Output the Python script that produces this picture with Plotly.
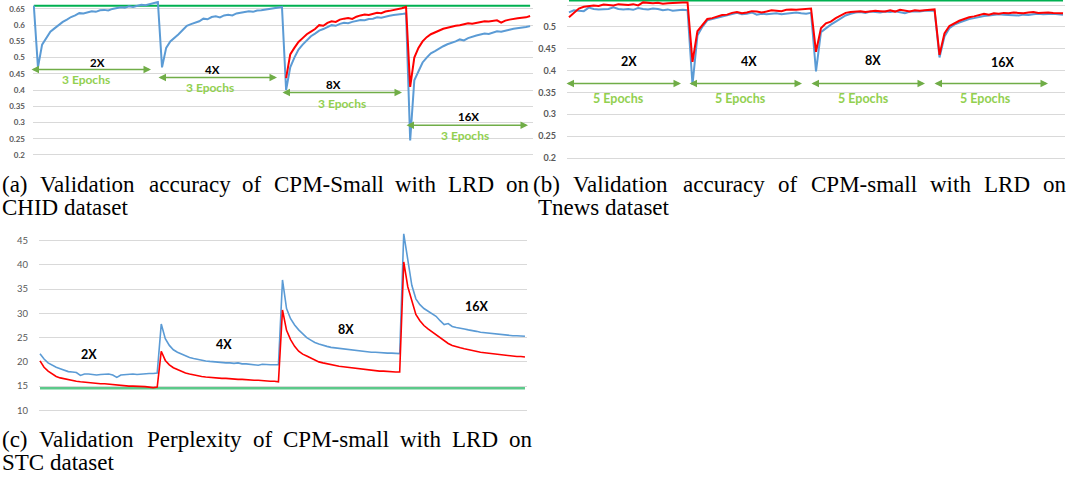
import plotly.graph_objects as go

W, H = 1066, 482

BLUE = "#5B9BD5"
RED = "#FF0000"
GREEN = "#00B050"
GREEN_C = "#5CC98A"
ARROW_GREEN = "#70AD47"
TEXT_GREEN = "#92D050"
GRID = "#D9D9D9"
TICK = "#595959"

# ---------------- (a) CHID validation accuracy ----------------
a_ticks = [0.2, 0.25, 0.3, 0.35, 0.4, 0.45, 0.5, 0.55, 0.6, 0.65]
a_tick_text = ["0.2", "0.25", "0.3", "0.35", "0.4", "0.45", "0.5", "0.55", "0.6", "0.65"]
a_target = 0.66
a_blue = [0.66,
          0.47, 0.54, 0.562, 0.58, 0.59, 0.60, 0.61, 0.617, 0.625, 0.63, 0.637, 0.636, 0.64, 0.643, 0.641,
          0.646, 0.647, 0.645, 0.65, 0.652, 0.655, 0.654, 0.658, 0.656, 0.66, 0.663, 0.661, 0.665, 0.667, 0.671,
          0.47, 0.53, 0.55, 0.56, 0.572, 0.585, 0.598, 0.603, 0.608, 0.612, 0.62, 0.618, 0.625, 0.627, 0.624,
          0.63, 0.632, 0.63, 0.636, 0.638, 0.64, 0.643, 0.641, 0.645, 0.646, 0.648, 0.65, 0.651, 0.653, 0.656,
          0.40, 0.47, 0.50, 0.525, 0.54, 0.553, 0.566, 0.574, 0.583, 0.588, 0.595, 0.60, 0.598, 0.604, 0.607,
          0.606, 0.61, 0.613, 0.616, 0.615, 0.619, 0.62, 0.624, 0.623, 0.627, 0.629, 0.631, 0.632, 0.634, 0.637,
          0.245, 0.43, 0.46, 0.485, 0.50, 0.513, 0.52, 0.528, 0.535, 0.541, 0.545, 0.55, 0.556, 0.553, 0.56,
          0.565, 0.568, 0.571, 0.574, 0.573, 0.578, 0.581, 0.58, 0.584, 0.586, 0.589, 0.59, 0.592, 0.594, 0.597]
a_red_start = 61
a_red = [0.437, 0.51, 0.53, 0.548, 0.56, 0.572, 0.58, 0.588, 0.60, 0.598, 0.607, 0.612, 0.61, 0.617, 0.62,
         0.622, 0.619, 0.626, 0.63, 0.633, 0.631, 0.635, 0.638, 0.637, 0.642, 0.644, 0.646, 0.649, 0.652, 0.656,
         0.41, 0.50, 0.53, 0.55, 0.563, 0.572, 0.578, 0.584, 0.589, 0.592, 0.596, 0.598, 0.60, 0.603, 0.606,
         0.604, 0.607, 0.609, 0.612, 0.611, 0.614, 0.615, 0.608, 0.614, 0.617, 0.618, 0.621, 0.623, 0.624, 0.628]

# ---------------- (b) Tnews validation accuracy ----------------
b_ticks = [0.2, 0.25, 0.3, 0.35, 0.4, 0.45, 0.5, 0.55]
b_tick_text = ["0.2", "0.25", "0.3", "0.35", "0.4", "0.45", "0.5", "0.55"]
b_target = 0.561
b_red = [0.522, 0.532, 0.542, 0.546, 0.548, 0.549, 0.548, 0.551, 0.55, 0.549, 0.552, 0.551, 0.55, 0.552, 0.549,
         0.556, 0.555, 0.554, 0.555, 0.553, 0.554, 0.555, 0.556, 0.556, 0.556,
         0.42, 0.49, 0.505, 0.518, 0.52, 0.524, 0.527, 0.528, 0.532, 0.534, 0.531, 0.533, 0.536, 0.535, 0.533,
         0.535, 0.538, 0.537, 0.536, 0.539, 0.54, 0.539, 0.54, 0.541, 0.542,
         0.443, 0.497, 0.508, 0.512, 0.52, 0.527, 0.532, 0.534, 0.535, 0.536, 0.534, 0.535, 0.537, 0.536, 0.535,
         0.538, 0.535, 0.539, 0.537, 0.535, 0.538, 0.537, 0.538, 0.539, 0.54,
         0.436, 0.485, 0.502, 0.508, 0.514, 0.518, 0.522, 0.524, 0.527, 0.53, 0.528, 0.531, 0.53, 0.532, 0.531,
         0.533, 0.532, 0.531, 0.533, 0.534, 0.532, 0.533, 0.533, 0.532, 0.532, 0.531]
b_blue = [0.533, 0.538, 0.537, 0.536, 0.544, 0.541, 0.54, 0.54, 0.541, 0.545, 0.541, 0.54, 0.541, 0.539, 0.543,
          0.541, 0.54, 0.542, 0.541, 0.538, 0.54, 0.537, 0.538, 0.539, 0.538,
          0.368, 0.48, 0.50, 0.515, 0.518, 0.52, 0.524, 0.527, 0.53, 0.532, 0.529, 0.53, 0.533, 0.528, 0.53,
          0.529, 0.53, 0.531, 0.529, 0.53, 0.532, 0.533, 0.531, 0.53, 0.532,
          0.398, 0.488, 0.497, 0.505, 0.512, 0.52, 0.526, 0.53, 0.533, 0.534, 0.532, 0.535, 0.534, 0.533, 0.535,
          0.534, 0.536, 0.534, 0.531, 0.535, 0.536, 0.535, 0.537, 0.537, 0.537,
          0.43, 0.478, 0.497, 0.505, 0.51, 0.514, 0.518, 0.52, 0.523, 0.525, 0.526, 0.527, 0.529, 0.528, 0.527,
          0.526, 0.526, 0.528, 0.527, 0.529, 0.53, 0.529, 0.53, 0.53, 0.529, 0.528]

# ---------------- (c) STC validation perplexity ----------------
c_ticks = [10, 15, 20, 25, 30, 35, 40, 45]
c_tick_text = ["10", "15", "20", "25", "30", "35", "40", "45"]
c_target = 14.55
c_blue = [21.7, 20.6, 19.8, 19.3, 18.9, 18.6, 18.3, 18.0, 17.9, 17.8, 17.2, 17.5, 17.5, 17.4, 17.3,
          17.4, 17.4, 17.5, 17.3, 16.8, 17.3, 17.4, 17.4, 17.5, 17.4, 17.5, 17.6, 17.6, 17.6, 17.7,
          27.8, 24.8, 23.4, 22.5, 22.0, 21.6, 21.2, 20.9, 20.7, 20.5, 20.3, 20.2, 20.1, 20.0, 19.9,
          19.9, 19.8, 19.8, 19.7, 19.8, 19.6, 19.6, 19.5, 19.5, 19.3, 19.5, 19.4, 19.4, 19.4, 19.4,
          36.9, 31.0, 28.9, 27.6, 26.6, 25.8, 25.0, 24.5, 24.0, 23.7, 23.4, 23.2, 23.0, 22.9, 22.8,
          22.7, 22.6, 22.5, 22.4, 22.2, 22.2, 22.1, 22.0, 22.0, 21.9, 21.9, 21.8, 21.8, 21.7, 21.7,
          46.4, 41.0, 35.8, 33.0, 31.8, 31.0, 30.5, 30.0, 29.4, 28.5, 27.7, 27.9, 27.3, 27.1, 27.0,
          26.8, 26.6, 26.5, 26.3, 26.1, 26.0, 25.9, 25.8, 25.7, 25.6, 25.6, 25.5, 25.4, 25.4, 25.3, 25.3]
c_red = [20.2, 18.9, 18.1, 17.5, 17.0, 16.7, 16.5, 16.3, 16.1, 16.0, 15.9, 15.8, 15.7, 15.7, 15.6,
         15.5, 15.5, 15.4, 15.3, 15.2, 15.1, 15.1, 15.0, 15.0, 15.0, 14.9, 14.9, 14.8, 14.7, 14.8,
         22.2, 20.3, 19.4, 18.8, 18.4, 18.0, 17.7, 17.5, 17.3, 17.1, 17.0, 16.9, 16.8, 16.7, 16.7,
         16.6, 16.6, 16.5, 16.5, 16.4, 16.4, 16.3, 16.3, 16.2, 16.2, 16.1, 16.1, 16.0, 16.0, 15.9,
         30.7, 26.5, 24.6, 23.2, 22.2, 21.6, 21.2, 20.8, 20.4, 20.0, 19.8, 19.6, 19.4, 19.2, 19.1,
         19.0, 18.9, 18.8, 18.6, 18.5, 18.4, 18.4, 18.3, 18.2, 18.1, 18.1, 18.0, 18.0, 17.9, 17.9,
         40.6, 35.5, 32.4, 29.8, 28.5, 27.5, 26.8, 26.2, 25.7, 25.0, 24.4, 23.8, 23.4, 23.1, 22.9,
         22.7, 22.5, 22.4, 22.2, 22.0, 21.9, 21.8, 21.6, 21.5, 21.4, 21.3, 21.3, 21.2, 21.1, 21.1, 21.0]

# labels
a_labels = ["2X", "4X", "8X", "16X"]
b_labels = ["2X", "4X", "8X", "16X"]
c_labels = ["2X", "4X", "8X", "16X"]
a_span = "3 Epochs"
b_span = "5 Epochs"


def px(x):
    return x / W


def py(y):
    return 1 - y / H


fig = go.Figure()


def line(xs, ys, color, width, xa, ya):
    fig.add_trace(go.Scatter(x=xs, y=ys, mode="lines", line=dict(color=color, width=width),
                             xaxis=xa, yaxis=ya, showlegend=False, hoverinfo="skip"))


# (a)
ax_idx = list(range(len(a_blue)))
line([ax_idx[0], ax_idx[-1]], [a_target, a_target], GREEN, 2, "x", "y")
line(ax_idx, a_blue, BLUE, 2, "x", "y")
line(list(range(a_red_start, a_red_start + len(a_red))), a_red, RED, 2, "x", "y")
# (b)
bx_idx = list(range(len(b_blue)))
line([bx_idx[0], bx_idx[-1]], [b_target, b_target], GREEN, 2.5, "x2", "y2")
line(bx_idx, b_blue, BLUE, 2, "x2", "y2")
line(bx_idx, b_red, RED, 2, "x2", "y2")
# (c)
cx_idx = list(range(len(c_blue)))
line([cx_idx[0], cx_idx[-1]], [c_target, c_target], GREEN_C, 2.5, "x3", "y3")
line(cx_idx, c_blue, BLUE, 1.6, "x3", "y3")
line(cx_idx, c_red, RED, 1.6, "x3", "y3")


def yaxis(domain, rng, tv, tt, size, bold, standoff, anchor):
    return dict(domain=domain, range=rng, tickvals=tv, ticktext=tt, showgrid=True,
                gridcolor=GRID, gridwidth=1, zeroline=False, showline=False, ticks="",
                tickfont=dict(family="Lato", size=size, color=TICK, weight=700 if bold else 400),
                ticklabelstandoff=standoff, anchor=anchor, fixedrange=True)


def xaxis(domain, rng, anchor):
    return dict(domain=domain, range=rng, visible=False, anchor=anchor, fixedrange=True)


fig.update_layout(
    width=W, height=H, margin=dict(l=0, r=0, t=0, b=0),
    paper_bgcolor="white", plot_bgcolor="white", showlegend=False,
    xaxis=xaxis([px(33), px(533)], [-0.2, 120.7], "y"),
    yaxis=yaxis([py(157.6), py(0.8)], [0.195, 0.675], a_ticks, a_tick_text, 8, True, 7, "x"),
    xaxis2=xaxis([px(567), px(1065)], [-0.4, 100.4], "y2"),
    yaxis2=yaxis([py(161.2), 1.0], [0.195, 0.5615], b_ticks, b_tick_text, 9, True, 10, "x2"),
    xaxis3=xaxis([px(39), px(527)], [-0.25, 120.5], "y3"),
    yaxis3=yaxis([py(415.4), py(232.4)], [9.5, 47], c_ticks, c_tick_text, 9.5, False, 10, "x3"),
)


def label(text, x, y, size, color="black"):
    fig.add_annotation(xref="paper", yref="paper", x=px(x), y=py(y), text="<b>%s</b>" % text,
                       showarrow=False, xanchor="center", yanchor="middle",
                       font=dict(family="Lato", size=size, color=color))


def darrow(x0, x1, y):
    fig.add_annotation(xref="paper", yref="paper", x=px(x1), y=py(y), ax=-(x1 - x0), ay=0,
                       text="", showarrow=True, arrowside="end+start", arrowhead=2, startarrowhead=2,
                       arrowsize=1, startarrowsize=1, arrowwidth=1.5, arrowcolor=ARROW_GREEN,
                       standoff=0, startstandoff=0)


# (a) annotations
for t, (x, y) in zip(a_labels, [(97, 63), (212, 70), (333, 85), (468, 117)]):
    label(t, x, y, 11.5)
for (x0, x1, y) in [(30, 151, 70), (157, 277, 78), (281, 402, 93), (405, 528, 126)]:
    darrow(x0, x1, y)
for (x, y) in [(86, 80), (210, 88), (342, 104), (465, 136)]:
    label(a_span, x, y, 12, TEXT_GREEN)

# (b) annotations
for t, (x, y) in zip(b_labels, [(629, 62), (749, 62), (873, 61), (1003, 63)]):
    label(t, x, y, 12.5)
for (x0, x1) in [(565, 681), (688, 802), (810, 925), (933, 1048)]:
    darrow(x0, x1, 84)
for x in [618, 740, 863, 985]:
    label(b_span, x, 99, 12.5, TEXT_GREEN)

# (c) annotations
for t, (x, y) in zip(c_labels, [(89, 357), (224, 347), (346, 332), (477, 308)]):
    label(t, x, y, 12.5)


# captions (justified first lines placed word by word)
def words(ws, xs, y, size=23):
    for w, x in zip(ws, xs):
        fig.add_annotation(xref="paper", yref="paper", x=px(x), y=py(y), text=w, showarrow=False,
                           xanchor="left", yanchor="middle",
                           font=dict(family="Liberation Serif", size=size, color="black"))


words("(a) Validation accuracy of CPM-Small with LRD on".split(),
      [0, 37.5, 146.6, 240.3, 271.5, 393.4, 446.3, 504.3], 186)
words(["CHID dataset"], [0], 209)
words("(b) Validation accuracy of CPM-small with LRD on".split(),
      [531, 571, 681.3, 776.2, 808.6, 927.9, 982, 1041.2], 186)
words(["Tnews dataset"], [536], 209)
words("(c) Validation Perplexity of CPM-small with LRD on".split(),
      [0, 36.6, 144.8, 250.5, 280.8, 398, 450, 507.1], 442)
words(["STC dataset"], [0], 465)

fig.write_html("out.html", config={"displayModeBar": False},
               post_script="document.body.style.margin='0px';document.body.style.overflow='hidden';")
